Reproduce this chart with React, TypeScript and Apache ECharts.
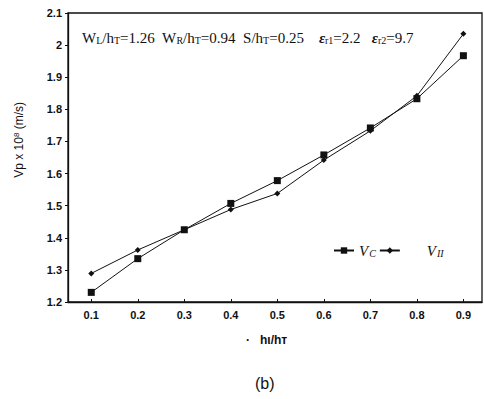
import React, { useEffect, useRef } from "react";
import * as echarts from "echarts";

const xValues = [0.1, 0.2, 0.3, 0.4, 0.5, 0.6, 0.7, 0.8, 0.9];
const vcValues = [1.23, 1.335, 1.425, 1.507, 1.578, 1.658, 1.742, 1.833, 1.967];
const viiValues = [1.289, 1.362, 1.425, 1.488, 1.538, 1.642, 1.733, 1.842, 2.035];
const xTicks = [0.1, 0.2, 0.3, 0.4, 0.5, 0.6, 0.7, 0.8, 0.9];

export default function App() {
  const ref = useRef<HTMLDivElement>(null);
  useEffect(() => {
    if (!ref.current) return;
    const chart = echarts.init(ref.current, undefined, { renderer: "svg" });
    const serif = "Liberation Serif";
    const sans = "Liberation Sans";
    chart.setOption({
      animation: false,
      backgroundColor: "#fff",
      grid: { left: 68, top: 13, right: 2, bottom: 97, show: true, borderColor: "#111", borderWidth: 1.3 },
      xAxis: {
        type: "value",
        min: 0.05,
        max: 0.94,
        axisLine: { lineStyle: { color: "#111", width: 1.3 } },
        axisTick: { inside: true, length: 3, customValues: xTicks, lineStyle: { color: "#111" } },
        axisLabel: {
          customValues: xTicks,
          formatter: (v: number) => String(Math.round(v * 10) / 10),
          color: "#111",
          fontFamily: sans,
          fontWeight: "bold",
          fontSize: 11,
          margin: 7,
        },
        splitLine: { show: false },
      },
      yAxis: {
        type: "value",
        min: 1.2,
        max: 2.1,
        interval: 0.1,
        axisLine: { show: true, lineStyle: { color: "#111", width: 1.3 } },
        axisTick: { show: true, length: 3, lineStyle: { color: "#111" } },
        axisLabel: {
          formatter: (v: number) => String(Math.round(v * 10) / 10),
          color: "#111",
          fontFamily: sans,
          fontWeight: "bold",
          fontSize: 11,
          margin: 6,
        },
        splitLine: { show: false },
      },
      legend: {
        left: 328,
        top: 238,
        itemGap: 3,
        itemWidth: 20,
        itemHeight: 8,
        data: ["Vc", "Vii"],
        formatter: (n: string) => (n === "Vc" ? "{v|V}{s|C}" : "{sp|}{v|V}{s|II}"),
        textStyle: {
          rich: {
            v: { fontFamily: serif, fontStyle: "italic", fontSize: 15, color: "#111" },
            s: { fontFamily: serif, fontStyle: "italic", fontSize: 10, color: "#111", verticalAlign: "bottom", padding: [6, 0, 0, 1] },
            sp: { width: 22 },
          },
        },
      },
      series: [
        {
          name: "Vc",
          type: "line",
          data: xValues.map((x, i) => [x, vcValues[i]]),
          symbol: "rect",
          symbolSize: 7,
          lineStyle: { color: "#111", width: 1 },
          itemStyle: { color: "#111" },
        },
        {
          name: "Vii",
          type: "line",
          data: xValues.map((x, i) => [x, viiValues[i]]),
          symbol: "diamond",
          symbolSize: 6,
          lineStyle: { color: "#111", width: 1 },
          itemStyle: { color: "#111" },
        },
      ],
      graphic: [
        {
          type: "text",
          left: 82,
          top: 30,
          style: {
            text:
              "{t|W}{s|L}{t|/h}{s|T}{t|=1.26  W}{s|R}{t|/h}{s|T}{t|=0.94  S/h}{s|T}{t|=0.25    }{e|ε}{s|r1}{t|=2.2   }{e|ε}{s|r2}{t|=9.7}",
            rich: {
              t: { fontFamily: serif, fontSize: 15, fill: "#111" },
              e: { fontFamily: serif, fontSize: 15, fontStyle: "italic", fontWeight: "bold", fill: "#111" },
              s: { fontFamily: serif, fontSize: 10, fill: "#111", verticalAlign: "bottom", padding: [5, 0, 0, 0] },
            },
          },
        },
        {
          type: "text",
          left: 12,
          top: 102,
          rotation: Math.PI / 2,
          style: {
            text: "{t|Vp x 10}{u|8}{t| (m/s)}",
            rich: {
              t: { fontFamily: sans, fontSize: 12, fill: "#111" },
              u: { fontFamily: sans, fontSize: 8, fill: "#111", verticalAlign: "top", padding: [0, 0, 6, 0] },
            },
          },
        },
        {
          type: "text",
          left: 246,
          top: 334,
          style: { text: "·   hι/hт", fontFamily: sans, fontSize: 12, fontWeight: "bold", fill: "#111" },
        },
        {
          type: "text",
          left: 255,
          top: 375,
          style: { text: "(b)", fontFamily: sans, fontSize: 16, fill: "#111" },
        },
      ],
    });
    return () => chart.dispose();
  }, []);
  return <div ref={ref} style={{ width: 484, height: 399, position: "absolute", left: 0, top: 0 }} />;
}
